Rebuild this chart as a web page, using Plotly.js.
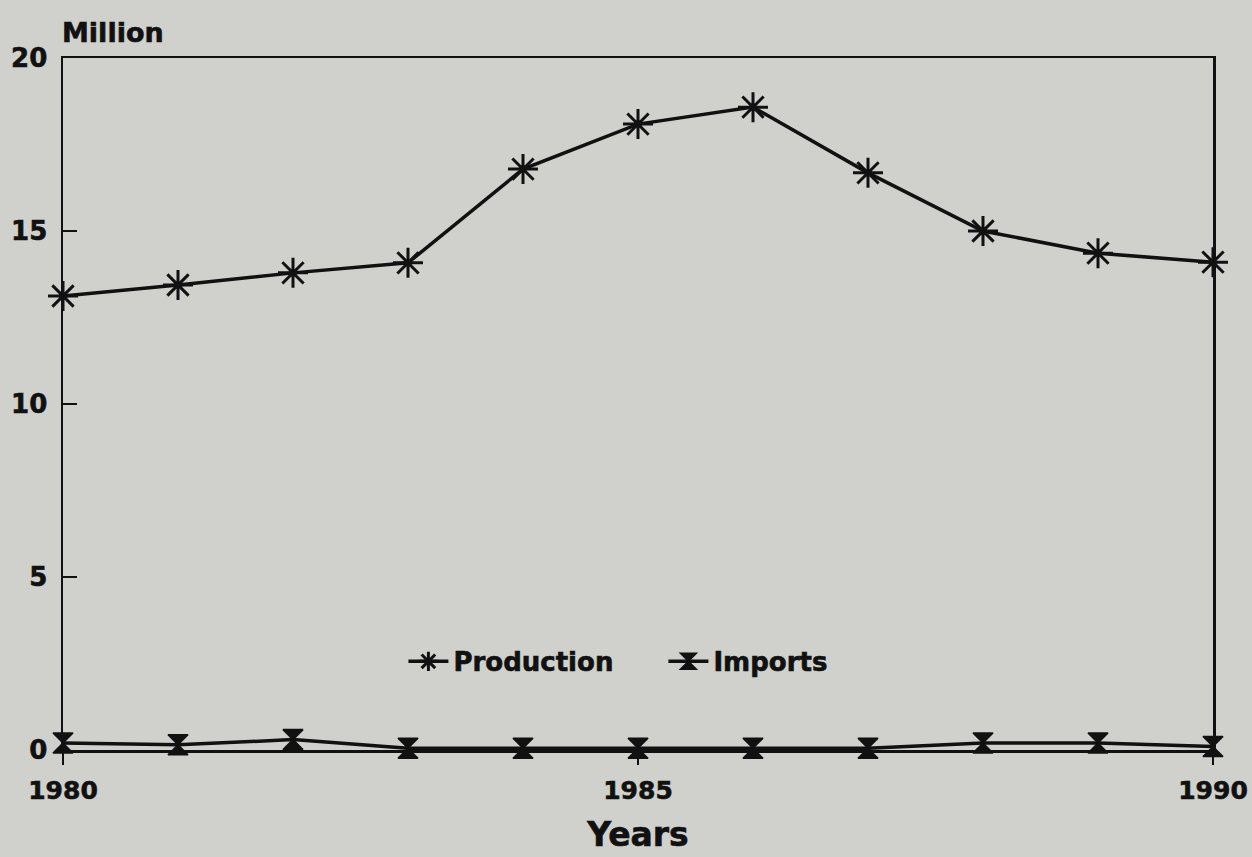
<!DOCTYPE html>
<html>
<head>
<meta charset="utf-8">
<script src="https://cdn.plot.ly/plotly-3.0.1.min.js"></script>
<style>html,body{margin:0;padding:0;background:#d0d1cc;}#chart{width:1252px;height:857px;}
#chart text{stroke:#111;stroke-width:0.6px;}</style>
</head>
<body>
<div id="chart"></div>
<script>
const years = [1980,1981,1982,1983,1984,1985,1986,1987,1988,1989,1990];
const production = [13.12,13.44,13.79,14.08,16.79,18.09,18.58,16.68,15.0,14.36,14.1];
const imports = [0.2,0.15,0.3,0.05,0.05,0.05,0.05,0.05,0.2,0.2,0.1];
const yTicks = [0,5,10,15,20];
const xTicks = [1980,1985,1990];

const font = {family:'DejaVu Sans, Liberation Sans, Arial, sans-serif', color:'#111', weight:'bold'};

const traces = [
  {x:years, y:production, name:'Production', mode:'lines+markers', cliponaxis:false,
   line:{color:'#111', width:3.5},
   marker:{symbol:'asterisk-open', size:25, color:'#111', line:{color:'#111', width:3}}},
  {x:years, y:imports, name:'Imports', mode:'lines+markers', cliponaxis:false,
   line:{color:'#111', width:3.5},
   marker:{symbol:'hourglass', size:20, color:'#111', line:{color:'#111', width:1.5}}}
];

const layout = {
  width:1252, height:857,
  paper_bgcolor:'#d0d1cc', plot_bgcolor:'#d0d1cc',
  margin:{l:63, r:39, t:58, b:107},
  font:Object.assign({size:24}, font),
  showlegend:true,
  legend:{orientation:'h', x:0.296, xanchor:'left', y:0.128, yanchor:'middle', entrywidth:205,
          bgcolor:'rgba(0,0,0,0)', font:Object.assign({size:26}, font), itemwidth:40},
  xaxis:{range:[1980,1990], tickvals:xTicks, ticktext:xTicks.map(String),
         showgrid:false, zeroline:false, showline:true, linecolor:'#111', linewidth:2.5, mirror:true,
         ticks:'outside', ticklen:12, tickwidth:2.5, tickcolor:'#111', ticklabelstandoff:4,
         tickfont:Object.assign({size:25}, font),
         title:{text:'Years', font:Object.assign({size:33}, font), standoff:20}},
  yaxis:{range:[0,20], tickvals:yTicks, showgrid:false, zeroline:false,
         showline:true, linecolor:'#111', linewidth:2.5, mirror:true,
         ticks:'inside', ticklen:14, tickwidth:2.5, tickcolor:'#111', ticklabelstandoff:8,
         tickfont:Object.assign({size:26}, font)},
  annotations:[{text:'Million', xref:'paper', yref:'paper', x:0, y:1, xanchor:'left', yanchor:'bottom',
                yshift:8, xshift:-3, showarrow:false, font:Object.assign({size:27}, font)}]
};

Plotly.newPlot('chart', traces, layout, {displayModeBar:false, staticPlot:true});
</script>
</body>
</html>
